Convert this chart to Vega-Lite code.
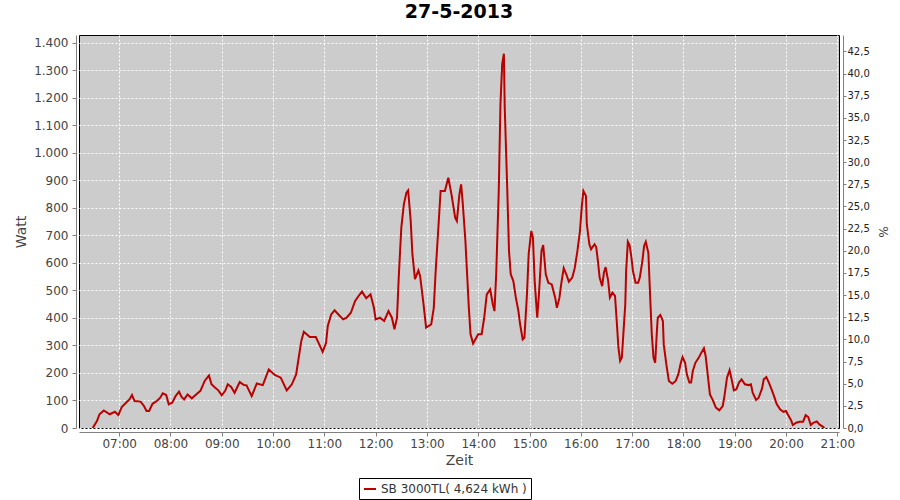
{
  "$schema": "https://vega.github.io/schema/vega-lite/v6.json",
  "width": 760,
  "height": 393,
  "autosize": {"type": "pad"},
  "padding": {"left": 14, "top": 3, "right": 5, "bottom": 2},
  "background": "white",
  "title": {"text": "27-5-2013", "fontSize": 19, "font": "DejaVu Sans", "fontWeight": "bold", "color": "#000000", "anchor": "middle", "offset": 13},
  "config": {
    "view": {"fill": "#CCCCCC", "stroke": "#000000", "strokeWidth": 1},
    "axis": {
      "gridColor": "#FFFFFF", "gridDash": [2, 2], "gridOpacity": 1, "gridWidth": 1,
      "domainColor": "#808080", "tickColor": "#808080", "tickSize": 4,
      "labelColor": "#444444", "labelFont": "DejaVu Sans", "labelFontSize": 12,
      "titleFont": "DejaVu Sans", "titleFontSize": 14, "titleFontWeight": "normal", "titleColor": "#444444"
    }
  },
  "layer": [
    {
      "data": {"values": [
        {"t":"2013-05-27T06:29","w":0},{"t":"2013-05-27T06:34","w":25},{"t":"2013-05-27T06:37","w":50},{"t":"2013-05-27T06:42","w":64},{"t":"2013-05-27T06:49","w":50},{"t":"2013-05-27T06:55","w":59},{"t":"2013-05-27T06:59","w":47},
        {"t":"2013-05-27T07:03","w":76},{"t":"2013-05-27T07:08","w":92},{"t":"2013-05-27T07:12","w":104},{"t":"2013-05-27T07:15","w":120},{"t":"2013-05-27T07:18","w":98},{"t":"2013-05-27T07:25","w":96},{"t":"2013-05-27T07:29","w":80},{"t":"2013-05-27T07:32","w":62},{"t":"2013-05-27T07:35","w":62},{"t":"2013-05-27T07:39","w":88},{"t":"2013-05-27T07:44","w":98},{"t":"2013-05-27T07:48","w":110},{"t":"2013-05-27T07:51","w":126},{"t":"2013-05-27T07:55","w":120},{"t":"2013-05-27T07:58","w":86},
        {"t":"2013-05-27T08:02","w":92},{"t":"2013-05-27T08:06","w":116},{"t":"2013-05-27T08:10","w":132},{"t":"2013-05-27T08:13","w":113},{"t":"2013-05-27T08:16","w":104},{"t":"2013-05-27T08:20","w":122},{"t":"2013-05-27T08:25","w":108},{"t":"2013-05-27T08:30","w":122},{"t":"2013-05-27T08:35","w":135},{"t":"2013-05-27T08:40","w":171},{"t":"2013-05-27T08:45","w":191},{"t":"2013-05-27T08:48","w":159},{"t":"2013-05-27T08:52","w":147},{"t":"2013-05-27T08:56","w":137},
        {"t":"2013-05-27T09:00","w":119},{"t":"2013-05-27T09:04","w":135},{"t":"2013-05-27T09:07","w":159},{"t":"2013-05-27T09:11","w":149},{"t":"2013-05-27T09:15","w":128},{"t":"2013-05-27T09:21","w":167},{"t":"2013-05-27T09:26","w":156},{"t":"2013-05-27T09:29","w":155},{"t":"2013-05-27T09:35","w":116},{"t":"2013-05-27T09:41","w":162},{"t":"2013-05-27T09:48","w":156},{"t":"2013-05-27T09:55","w":213},
        {"t":"2013-05-27T10:02","w":193},{"t":"2013-05-27T10:09","w":183},{"t":"2013-05-27T10:16","w":137},{"t":"2013-05-27T10:22","w":159},{"t":"2013-05-27T10:27","w":195},{"t":"2013-05-27T10:30","w":256},{"t":"2013-05-27T10:33","w":316},{"t":"2013-05-27T10:36","w":350},{"t":"2013-05-27T10:43","w":331},{"t":"2013-05-27T10:50","w":331},{"t":"2013-05-27T10:55","w":298},{"t":"2013-05-27T10:58","w":277},
        {"t":"2013-05-27T11:02","w":310},{"t":"2013-05-27T11:04","w":371},{"t":"2013-05-27T11:08","w":413},{"t":"2013-05-27T11:12","w":428},{"t":"2013-05-27T11:17","w":411},{"t":"2013-05-27T11:22","w":395},{"t":"2013-05-27T11:26","w":401},{"t":"2013-05-27T11:31","w":419},{"t":"2013-05-27T11:36","w":462},{"t":"2013-05-27T11:40","w":480},{"t":"2013-05-27T11:44","w":496},{"t":"2013-05-27T11:49","w":472},{"t":"2013-05-27T11:54","w":486},{"t":"2013-05-27T11:58","w":437},
        {"t":"2013-05-27T12:00","w":395},{"t":"2013-05-27T12:05","w":401},{"t":"2013-05-27T12:10","w":389},{"t":"2013-05-27T12:15","w":425},{"t":"2013-05-27T12:19","w":401},{"t":"2013-05-27T12:22","w":359},{"t":"2013-05-27T12:25","w":401},{"t":"2013-05-27T12:27","w":547},{"t":"2013-05-27T12:30","w":728},{"t":"2013-05-27T12:33","w":813},{"t":"2013-05-27T12:36","w":856},{"t":"2013-05-27T12:38","w":864},{"t":"2013-05-27T12:41","w":753},{"t":"2013-05-27T12:43","w":632},{"t":"2013-05-27T12:46","w":541},{"t":"2013-05-27T12:50","w":573},{"t":"2013-05-27T12:52","w":553},{"t":"2013-05-27T12:56","w":450},{"t":"2013-05-27T12:59","w":365},
        {"t":"2013-05-27T13:05","w":377},{"t":"2013-05-27T13:08","w":437},{"t":"2013-05-27T13:10","w":559},{"t":"2013-05-27T13:13","w":710},{"t":"2013-05-27T13:16","w":862},{"t":"2013-05-27T13:21","w":862},{"t":"2013-05-27T13:25","w":910},{"t":"2013-05-27T13:29","w":844},{"t":"2013-05-27T13:33","w":765},{"t":"2013-05-27T13:35","w":753},{"t":"2013-05-27T13:38","w":850},{"t":"2013-05-27T13:40","w":886},{"t":"2013-05-27T13:42","w":813},{"t":"2013-05-27T13:45","w":680},{"t":"2013-05-27T13:47","w":559},{"t":"2013-05-27T13:49","w":437},{"t":"2013-05-27T13:51","w":341},{"t":"2013-05-27T13:54","w":307},
        {"t":"2013-05-27T14:00","w":341},{"t":"2013-05-27T14:04","w":341},{"t":"2013-05-27T14:07","w":401},{"t":"2013-05-27T14:10","w":486},{"t":"2013-05-27T14:14","w":504},{"t":"2013-05-27T14:17","w":450},{"t":"2013-05-27T14:19","w":425},{"t":"2013-05-27T14:21","w":559},{"t":"2013-05-27T14:24","w":862},{"t":"2013-05-27T14:26","w":1177},{"t":"2013-05-27T14:28","w":1323},{"t":"2013-05-27T14:30","w":1361},{"t":"2013-05-27T14:31","w":1165},{"t":"2013-05-27T14:34","w":862},{"t":"2013-05-27T14:36","w":644},{"t":"2013-05-27T14:38","w":559},{"t":"2013-05-27T14:41","w":535},{"t":"2013-05-27T14:44","w":474},{"t":"2013-05-27T14:47","w":425},{"t":"2013-05-27T14:49","w":377},{"t":"2013-05-27T14:52","w":322},{"t":"2013-05-27T14:54","w":328},{"t":"2013-05-27T14:57","w":486},{"t":"2013-05-27T14:59","w":632},
        {"t":"2013-05-27T15:02","w":716},{"t":"2013-05-27T15:04","w":692},{"t":"2013-05-27T15:06","w":535},{"t":"2013-05-27T15:09","w":401},{"t":"2013-05-27T15:11","w":486},{"t":"2013-05-27T15:14","w":644},{"t":"2013-05-27T15:16","w":665},{"t":"2013-05-27T15:19","w":559},{"t":"2013-05-27T15:22","w":528},{"t":"2013-05-27T15:26","w":522},{"t":"2013-05-27T15:30","w":474},{"t":"2013-05-27T15:32","w":437},{"t":"2013-05-27T15:35","w":474},{"t":"2013-05-27T15:37","w":522},{"t":"2013-05-27T15:40","w":581},{"t":"2013-05-27T15:43","w":559},{"t":"2013-05-27T15:46","w":532},{"t":"2013-05-27T15:50","w":547},{"t":"2013-05-27T15:53","w":583},{"t":"2013-05-27T15:56","w":644},{"t":"2013-05-27T15:59","w":716},
        {"t":"2013-05-27T16:01","w":801},{"t":"2013-05-27T16:03","w":862},{"t":"2013-05-27T16:06","w":844},{"t":"2013-05-27T16:07","w":741},{"t":"2013-05-27T16:10","w":668},{"t":"2013-05-27T16:12","w":650},{"t":"2013-05-27T16:16","w":668},{"t":"2013-05-27T16:18","w":658},{"t":"2013-05-27T16:20","w":607},{"t":"2013-05-27T16:22","w":547},{"t":"2013-05-27T16:25","w":516},{"t":"2013-05-27T16:27","w":565},{"t":"2013-05-27T16:29","w":585},{"t":"2013-05-27T16:32","w":535},{"t":"2013-05-27T16:34","w":474},{"t":"2013-05-27T16:37","w":492},{"t":"2013-05-27T16:40","w":480},{"t":"2013-05-27T16:42","w":389},{"t":"2013-05-27T16:44","w":292},{"t":"2013-05-27T16:46","w":244},{"t":"2013-05-27T16:48","w":256},{"t":"2013-05-27T16:50","w":353},{"t":"2013-05-27T16:52","w":450},{"t":"2013-05-27T16:53","w":571},{"t":"2013-05-27T16:55","w":677},{"t":"2013-05-27T16:57","w":665},{"t":"2013-05-27T16:59","w":625},
        {"t":"2013-05-27T17:01","w":571},{"t":"2013-05-27T17:04","w":528},{"t":"2013-05-27T17:07","w":528},{"t":"2013-05-27T17:09","w":547},{"t":"2013-05-27T17:12","w":607},{"t":"2013-05-27T17:14","w":662},{"t":"2013-05-27T17:16","w":677},{"t":"2013-05-27T17:19","w":637},{"t":"2013-05-27T17:21","w":486},{"t":"2013-05-27T17:23","w":341},{"t":"2013-05-27T17:25","w":256},{"t":"2013-05-27T17:27","w":237},{"t":"2013-05-27T17:29","w":353},{"t":"2013-05-27T17:30","w":401},{"t":"2013-05-27T17:33","w":411},{"t":"2013-05-27T17:36","w":389},{"t":"2013-05-27T17:37","w":304},{"t":"2013-05-27T17:40","w":232},{"t":"2013-05-27T17:43","w":171},{"t":"2013-05-27T17:47","w":161},{"t":"2013-05-27T17:51","w":171},{"t":"2013-05-27T17:54","w":195},{"t":"2013-05-27T17:57","w":237},{"t":"2013-05-27T17:59","w":258},
        {"t":"2013-05-27T18:02","w":237},{"t":"2013-05-27T18:04","w":195},{"t":"2013-05-27T18:07","w":165},{"t":"2013-05-27T18:09","w":165},{"t":"2013-05-27T18:11","w":207},{"t":"2013-05-27T18:14","w":237},{"t":"2013-05-27T18:18","w":256},{"t":"2013-05-27T18:21","w":274},{"t":"2013-05-27T18:24","w":290},{"t":"2013-05-27T18:26","w":262},{"t":"2013-05-27T18:28","w":207},{"t":"2013-05-27T18:31","w":122},{"t":"2013-05-27T18:34","w":104},{"t":"2013-05-27T18:38","w":74},{"t":"2013-05-27T18:42","w":64},{"t":"2013-05-27T18:46","w":80},{"t":"2013-05-27T18:48","w":116},{"t":"2013-05-27T18:51","w":183},{"t":"2013-05-27T18:54","w":210},{"t":"2013-05-27T18:56","w":183},{"t":"2013-05-27T18:59","w":137},
        {"t":"2013-05-27T19:02","w":141},{"t":"2013-05-27T19:05","w":165},{"t":"2013-05-27T19:08","w":177},{"t":"2013-05-27T19:12","w":159},{"t":"2013-05-27T19:16","w":156},{"t":"2013-05-27T19:19","w":159},{"t":"2013-05-27T19:21","w":128},{"t":"2013-05-27T19:25","w":102},{"t":"2013-05-27T19:28","w":110},{"t":"2013-05-27T19:32","w":144},{"t":"2013-05-27T19:34","w":177},{"t":"2013-05-27T19:37","w":185},{"t":"2013-05-27T19:40","w":165},{"t":"2013-05-27T19:43","w":141},{"t":"2013-05-27T19:46","w":116},{"t":"2013-05-27T19:49","w":88},{"t":"2013-05-27T19:53","w":68},{"t":"2013-05-27T19:57","w":59},
        {"t":"2013-05-27T20:00","w":62},{"t":"2013-05-27T20:02","w":50},{"t":"2013-05-27T20:06","w":28},{"t":"2013-05-27T20:08","w":11},{"t":"2013-05-27T20:12","w":19},{"t":"2013-05-27T20:16","w":23},{"t":"2013-05-27T20:20","w":23},{"t":"2013-05-27T20:23","w":47},{"t":"2013-05-27T20:26","w":40},{"t":"2013-05-27T20:29","w":11},{"t":"2013-05-27T20:32","w":19},{"t":"2013-05-27T20:36","w":24},{"t":"2013-05-27T20:39","w":13},{"t":"2013-05-27T20:43","w":5},{"t":"2013-05-27T20:45","w":0}
      ]},
      "mark": {"type": "line", "strokeWidth": 2, "clip": true},
      "encoding": {
        "x": {
          "field": "t", "type": "temporal", "title": "Zeit",
          "scale": {"domain": [{"year": 2013, "month": 5, "date": 27, "hours": 6, "minutes": 13}, {"year": 2013, "month": 5, "date": 27, "hours": 21, "minutes": 2}], "nice": false},
          "axis": {
            "format": "%H:%M",
            "values": [
              {"year": 2013, "month": 5, "date": 27, "hours": 7}, {"year": 2013, "month": 5, "date": 27, "hours": 8}, {"year": 2013, "month": 5, "date": 27, "hours": 9}, {"year": 2013, "month": 5, "date": 27, "hours": 10}, {"year": 2013, "month": 5, "date": 27, "hours": 11}, {"year": 2013, "month": 5, "date": 27, "hours": 12}, {"year": 2013, "month": 5, "date": 27, "hours": 13}, {"year": 2013, "month": 5, "date": 27, "hours": 14}, {"year": 2013, "month": 5, "date": 27, "hours": 15}, {"year": 2013, "month": 5, "date": 27, "hours": 16}, {"year": 2013, "month": 5, "date": 27, "hours": 17}, {"year": 2013, "month": 5, "date": 27, "hours": 18}, {"year": 2013, "month": 5, "date": 27, "hours": 19}, {"year": 2013, "month": 5, "date": 27, "hours": 20}, {"year": 2013, "month": 5, "date": 27, "hours": 21}
            ],
            "offset": 4, "labelPadding": 2, "titlePadding": 4, "labelFlush": false
          }
        },
        "y": {
          "field": "w", "type": "quantitative", "title": "Watt",
          "scale": {"domain": [0, 1429], "nice": false, "zero": true},
          "axis": {"values": [0,100,200,300,400,500,600,700,800,900,1000,1100,1200,1300,1400], "labelExpr": "replace(format(datum.value, ','), ',', '.')", "offset": 3, "labelPadding": 4, "titlePadding": 5}
        },
        "color": {
          "datum": "SB 3000TL( 4,624 kWh )",
          "scale": {"range": ["#BB0000"]},
          "legend": {
            "title": null, "orient": "none", "legendX": 280, "legendY": 443, "symbolType": "stroke", "symbolStrokeWidth": 2, "symbolSize": 144,
            "labelFont": "DejaVu Sans", "labelFontSize": 12, "labelColor": "#333333",
            "strokeColor": "#000000", "fillColor": "#FFFFFF", "padding": 4
          }
        }
      }
    },
    {
      "data": {"values": [{"pct": 0}, {"pct": 42.5}]},
      "mark": {"type": "rule", "strokeOpacity": 0},
      "encoding": {
        "y": {
          "field": "pct", "type": "quantitative", "title": "%",
          "scale": {"domain": [0, 44.35], "nice": false},
          "axis": {"orient": "right", "grid": false, "values": [0,2.5,5,7.5,10,12.5,15,17.5,20,22.5,25,27.5,30,32.5,35,37.5,40,42.5], "labelExpr": "replace(format(datum.value, '.1f'), '.', ',')", "labelFontSize": 10, "labelColor": "#222222", "tickSize": 3, "labelPadding": 1, "offset": 4, "titleFontSize": 12, "titlePadding": 6}
        }
      }
    }
  ],
  "resolve": {"scale": {"y": "independent"}}
}
